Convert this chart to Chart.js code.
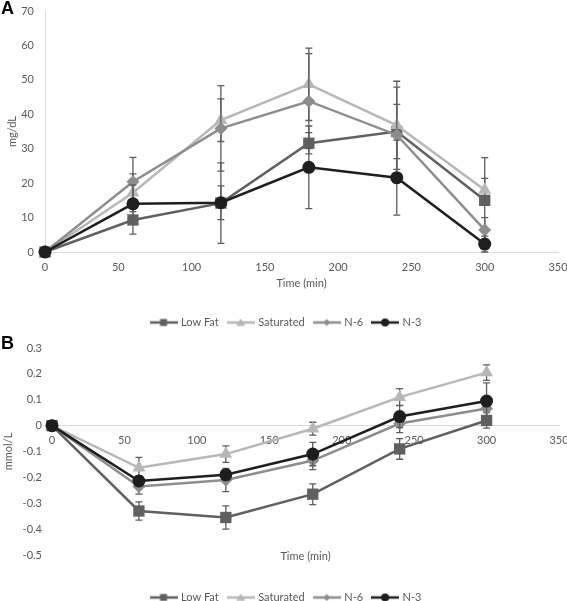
<!DOCTYPE html>
<html>
<head>
<meta charset="utf-8">
<script src="https://cdn.jsdelivr.net/npm/chart.js@4.4.1/dist/chart.umd.min.js"></script>
<style>
  html, body { margin: 0; padding: 0; background: #fff; }
  body { width: 567px; height: 601px; position: relative; overflow: hidden; }
  .panel { position: absolute; left: 0; width: 567px; }
  #wrapA { top: 0; height: 338px; }
  #wrapB { top: 338px; height: 275px; }
  .tag { position: absolute; left: 1px; font: bold 18px "Liberation Sans", Arial, sans-serif; line-height: 18px; color: #000; }
</style>
</head>
<body>
<div class="panel" id="wrapA"><canvas id="chartA" width="567" height="338"></canvas></div>
<div class="panel" id="wrapB"><canvas id="chartB" width="567" height="275"></canvas></div>
<div class="tag" style="top:-1px">A</div>
<div class="tag" style="top:334px">B</div>
<script>
// time points (min)
const times = [0, 60, 120, 180, 240, 300];
const seriesNames = ['Low Fat', 'Saturated', 'N-6', 'N-3'];

// panel A, mg/dL
const lowFatA = [0, 9.3, 14.2, 31.6, 35.0, 15.0];
const saturatedA = [0, 17.2, 38.3, 48.7, 36.8, 18.0];
const n6A = [0, 20.4, 35.9, 43.8, 34.0, 6.4];
const n3A = [0, 14.0, 14.3, 24.6, 21.6, 2.3];
const lowFatErrA = [0, 4.1, 11.7, 3.1, 7.9, 12.4];
const saturatedErrA = [0, 5.5, 6.2, 10.5, 12.8, 3.4];
const n6ErrA = [0, 7.1, 12.4, 13.8, 13.9, 3.6];
const n3ErrA = [0, 5.5, 4.9, 12.0, 10.9, 2.3];

// panel B, mmol/L
const lowFatB = [0, -0.33, -0.355, -0.265, -0.09, 0.02];
const saturatedB = [0, -0.163, -0.11, -0.012, 0.11, 0.205];
const n6B = [0, -0.235, -0.21, -0.135, 0.008, 0.066];
const n3B = [0, -0.214, -0.19, -0.11, 0.035, 0.095];
const lowFatErrB = [0, 0.035, 0.045, 0.04, 0.04, 0.03];
const saturatedErrB = [0, 0.04, 0.032, 0.025, 0.033, 0.03];
const n6ErrB = [0, 0.03, 0.045, 0.035, 0.035, 0.03];
const n3ErrB = [0, 0.02, 0.02, 0.045, 0.043, 0.07];

const colors = ['#606060', '#b7b7b7', '#8d8d8d', '#1e1e1e'];
const markers = ['rect', 'triangle', 'rectRot', 'circle'];
const radii = [8, 7.5, 6.5, 6.5];
const textColor = '#595959';
const font = { family: 'Lato, sans-serif', size: 11 };

// small line+marker swatch for the legend
function legendIcon(i) {
  const c = document.createElement('canvas');
  c.width = 28; c.height = 12;
  const g = c.getContext('2d');
  g.strokeStyle = colors[i];
  g.fillStyle = colors[i];
  g.lineWidth = 2.5;
  g.beginPath(); g.moveTo(0, 6); g.lineTo(28, 6); g.stroke();
  g.beginPath();
  if (markers[i] === 'rect') g.rect(10.5, 2.5, 7, 7);
  else if (markers[i] === 'triangle') { g.moveTo(14, 2); g.lineTo(18.5, 9.5); g.lineTo(9.5, 9.5); g.closePath(); }
  else if (markers[i] === 'rectRot') { g.moveTo(14, 2.5); g.lineTo(17.5, 6); g.lineTo(14, 9.5); g.lineTo(10.5, 6); g.closePath(); }
  else g.arc(14, 6, 4, 0, Math.PI * 2);
  g.fill();
  return c;
}

const errorBars = {
  id: 'errorBars',
  beforeDatasetDraw(chart, args) {
    const ds = chart.data.datasets[args.index];
    if (!ds.errors) return;
    const ctx = chart.ctx;
    const yScale = chart.scales.y;
    ctx.save();
    ctx.strokeStyle = '#5c5c5c';
    ctx.lineWidth = 1.3;
    args.meta.data.forEach((pt, i) => {
      const e = ds.errors[i];
      if (!e) return;
      const v = ds.data[i].y;
      const top = yScale.getPixelForValue(v + e);
      const bot = yScale.getPixelForValue(v - e);
      ctx.beginPath();
      ctx.moveTo(pt.x, top); ctx.lineTo(pt.x, bot);
      ctx.moveTo(pt.x - 3.5, top); ctx.lineTo(pt.x + 3.5, top);
      ctx.moveTo(pt.x - 3.5, bot); ctx.lineTo(pt.x + 3.5, bot);
      ctx.stroke();
    });
    ctx.restore();
  }
};

// nudge the legend row to the right a little
const legendShift = {
  id: 'legendShift',
  afterLayout(chart, args, opts) {
    const l = chart.legend;
    l.left += opts.dx;
    l.right += opts.dx;
  }
};

function makeDatasets(values, errors) {
  return values.map((vals, i) => ({
    label: seriesNames[i],
    data: times.map((t, k) => ({ x: t, y: vals[k] })),
    errors: errors[i],
    borderColor: colors[i],
    backgroundColor: colors[i],
    pointBackgroundColor: colors[i],
    pointBorderColor: colors[i],
    pointBorderWidth: 0,
    pointStyle: markers[i],
    pointRadius: radii[i],
    borderWidth: 2.5,
    tension: 0,
    clip: false,
    order: 4 - i
  }));
}

function legendOpts() {
  return {
    position: 'bottom',
    labels: {
      usePointStyle: true,
      pointStyleWidth: 24,
      boxHeight: 11,
      padding: 10,
      color: textColor,
      font: font,
      generateLabels: chart => chart.data.datasets.map((ds, i) => ({
        text: ds.label,
        pointStyle: legendIcon(i),
        fontColor: textColor,
        fillStyle: colors[i],
        strokeStyle: colors[i],
        lineWidth: 0,
        hidden: false,
        datasetIndex: i
      }))
    }
  };
}

const noSidePad = s => { s.paddingLeft = 0; s.paddingRight = 0; };
const noEndPad = s => { s.paddingTop = 0; s.paddingBottom = 0; };

new Chart(document.getElementById('chartA'), {
  type: 'line',
  data: {
    datasets: makeDatasets([lowFatA, saturatedA, n6A, n3A], [lowFatErrA, saturatedErrA, n6ErrA, n3ErrA])
  },
  options: {
    responsive: false,
    animation: false,
    layout: { padding: { top: 11, right: 9, left: 6, bottom: 0 } },
    plugins: { legend: legendOpts(), tooltip: { enabled: false }, legendShift: { dx: 4.5 } },
    scales: {
      x: {
        type: 'linear', min: 0, max: 350,
        ticks: { stepSize: 50, color: textColor, font: font, padding: 9, maxRotation: 0 },
        grid: { display: false, drawTicks: false },
        border: { color: '#d9d9d9', width: 1 },
        title: { display: true, text: 'Time (min)', color: textColor, font: font, padding: { top: 3, bottom: 17 } },
        afterFit: s => { s.height = 55; noSidePad(s); }
      },
      y: {
        min: 0, max: 70,
        ticks: { stepSize: 10, color: textColor, font: font, padding: 11 },
        grid: { display: false, drawTicks: false },
        border: { color: '#d9d9d9', width: 1 },
        title: { display: true, text: 'mg/dL', color: textColor, font: font, padding: { top: 0, bottom: 0 } },
        afterFit: s => { s.width = 39; noEndPad(s); }
      }
    }
  },
  plugins: [errorBars, legendShift]
});

new Chart(document.getElementById('chartB'), {
  type: 'line',
  data: {
    datasets: makeDatasets([lowFatB, saturatedB, n6B, n3B], [lowFatErrB, saturatedErrB, n6ErrB, n3ErrB])
  },
  options: {
    responsive: false,
    animation: false,
    layout: { padding: { top: 10, right: 8, left: 2, bottom: 0 } },
    plugins: { legend: legendOpts(), tooltip: { enabled: false }, legendShift: { dx: 6 } },
    scales: {
      x: {
        type: 'linear', min: 0, max: 350,
        position: { y: 0 },
        ticks: { stepSize: 50, color: textColor, font: font, padding: 8, maxRotation: 0 },
        grid: { display: false, drawTicks: false },
        border: { color: '#d9d9d9', width: 1 },
        afterFit: noSidePad
      },
      x2: {
        type: 'linear', min: 0, max: 350, position: 'bottom',
        ticks: { display: false },
        grid: { display: false, drawTicks: false },
        border: { display: false },
        title: { display: true, text: 'Time (min)', color: textColor, font: font, padding: { top: 2, bottom: 19 } },
        afterFit: s => { s.height = 27; noSidePad(s); }
      },
      y: {
        min: -0.5, max: 0.3,
        ticks: { stepSize: 0.1, color: textColor, font: font, padding: 10 },
        grid: { display: false, drawTicks: false },
        border: { display: false },
        title: { display: true, text: 'mmol/L', color: textColor, font: font, padding: { top: 0, bottom: 0 } },
        afterFit: s => { s.width = 50; noEndPad(s); }
      }
    }
  },
  plugins: [errorBars, legendShift]
});
</script>
</body>
</html>
